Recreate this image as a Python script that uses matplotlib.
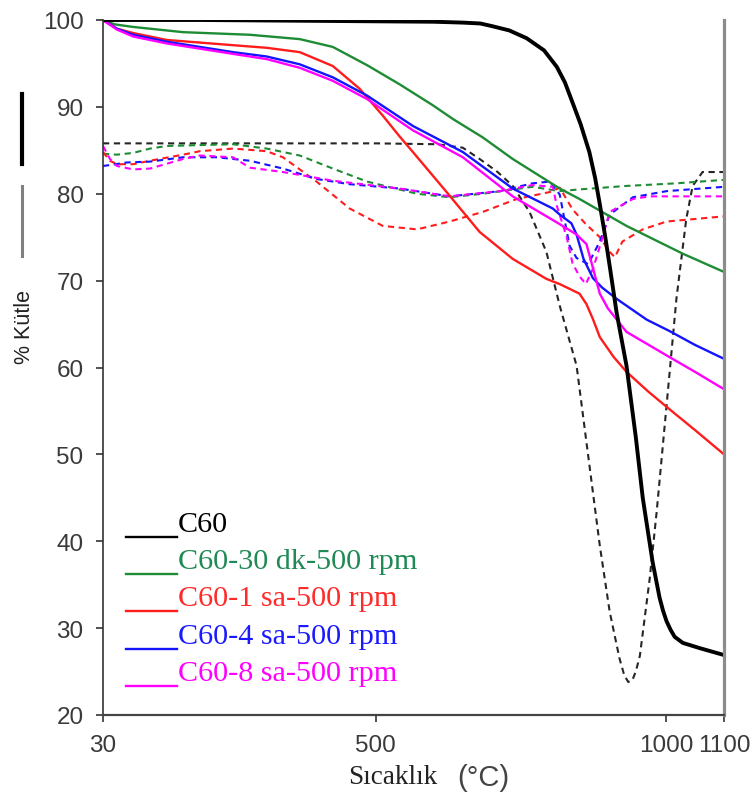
import numpy as np
import matplotlib
matplotlib.use("Agg")
import matplotlib.pyplot as plt
from matplotlib.lines import Line2D

# --- data (temperature in C, mass %) ---
labels = ["C60", "C60-30 dk-500 rpm", "C60-1 sa-500 rpm", "C60-4 sa-500 rpm", "C60-8 sa-500 rpm"]
lineColors = ["#000000", "#1e8c34", "#ff1c1c", "#1414ff", "#ff00ff"]
textColors = ["#000000", "#1f8a55", "#ff2a2a", "#1a1aff", "#ff00ff"]

# solid curves (mass loss)
tBlack = [30, 200, 400, 600, 650, 680, 700, 730, 760, 790, 812, 826, 839, 853, 868, 878, 886, 895, 903, 915, 932, 948,
          960, 977, 989, 995, 1001, 1008, 1015, 1029, 1058, 1100]
mBlack = [100, 100, 99.9, 99.8, 99.7, 99.6, 99.3, 98.8, 97.9, 96.5, 94.6, 92.8, 90.5, 88.0, 84.8, 81.8, 78.8, 75.2, 71.7,
          66.3, 60.2, 52.0, 45.0, 37.6, 33.5, 32.0, 30.8, 29.8, 29.0, 28.3, 27.7, 26.9]

tGreen = [30, 50, 82, 168, 283, 369, 426, 485, 541, 598, 633, 684, 736, 817, 851, 932, 1029, 1100]
mGreen = [100, 99.5, 99.2, 98.6, 98.3, 97.8, 96.9, 94.8, 92.6, 90.2, 88.6, 86.5, 84.0, 80.6, 79.4, 76.3, 73.1, 71.0]

tRed = [30, 54, 82, 140, 197, 254, 312, 369, 426, 472, 512, 541, 564, 622, 679, 736, 794, 817, 851, 863, 874, 886, 910,
        932, 970, 1006, 1050, 1100]
mRed = [100, 99.0, 98.5, 97.7, 97.4, 97.1, 96.8, 96.3, 94.7, 92.1, 89.0, 86.6, 84.8, 80.2, 75.6, 72.5, 70.2, 69.6, 68.5,
        67.3, 65.6, 63.5, 61.2, 59.5, 57.2, 55.2, 52.8, 50.0]

tBlue = [30, 54, 82, 140, 197, 254, 312, 369, 426, 485, 564, 650, 736, 805, 817, 837, 846, 858, 874, 890, 915, 967, 1006,
         1050, 1100]
mBlue = [100, 99.0, 98.3, 97.5, 96.9, 96.3, 95.8, 94.9, 93.4, 91.3, 87.8, 84.8, 80.6, 78.3, 77.6, 76.6, 75.3, 72.5, 70.3,
         69.2, 67.9, 65.5, 64.2, 62.6, 61.0]

tPink = [30, 54, 82, 140, 197, 254, 312, 369, 426, 485, 564, 650, 736, 817, 846, 863, 874, 886, 900, 932, 1006, 1050, 1100]
mPink = [100, 98.9, 98.1, 97.3, 96.7, 96.1, 95.5, 94.5, 93.0, 90.9, 87.3, 84.2, 79.7, 76.5, 75.3, 74.2, 71.5, 68.5, 66.8,
         64.1, 61.2, 59.5, 57.5]

# dashed curves (derivative, scaled)
tBlackD = [30, 300, 500, 605, 650, 679, 710, 736, 765, 794, 817, 846, 874, 886, 903, 920, 928, 935, 942, 948, 955, 972,
           984, 1001, 1018, 1035, 1046, 1063, 1100]
dBlackD = [85.8, 85.8, 85.8, 85.7, 85.3, 84.0, 82.5, 80.9, 77.9, 73.3, 67.1, 60.2, 45.7, 39.5, 31.9, 26.5, 24.6, 23.8,
           24.0, 25.0, 26.8, 35.7, 43.4, 55.6, 67.9, 77.1, 80.9, 82.5, 82.5]

tGreenD = [30, 54, 82, 111, 140, 254, 312, 369, 426, 485, 571, 627, 684, 770, 817, 851, 932, 1018, 1100]
dGreenD = [84.6, 84.5, 84.7, 85.2, 85.5, 85.7, 85.2, 84.4, 82.9, 81.4, 80.0, 79.6, 80.0, 80.8, 80.3, 80.5, 80.9, 81.2, 81.6]

tRedD = [30, 42, 54, 82, 111, 168, 197, 254, 312, 340, 398, 455, 512, 571, 627, 684, 743, 800, 817, 839, 862, 886, 903,
         912, 925, 960, 1001, 1100]
dRedD = [84.8, 83.8, 83.4, 83.4, 83.8, 84.5, 84.9, 85.2, 84.9, 84.2, 81.4, 78.3, 76.3, 75.9, 76.8, 77.9, 79.4, 80.2, 80.7,
         78.2, 76.5, 75.0, 73.3, 72.7, 74.5, 75.9, 76.8, 77.4]

tBlueD = [30, 42, 71, 111, 168, 226, 283, 340, 398, 455, 541, 627, 714, 770, 800, 817, 825, 834, 846, 866, 886, 903, 943,
          1001, 1100]
dBlueD = [83.2, 83.3, 83.6, 83.7, 84.2, 84.2, 83.8, 82.9, 81.7, 81.1, 80.6, 79.7, 80.3, 81.2, 81.4, 79.9, 77.1, 74.0,
          72.6, 71.9, 74.5, 77.6, 79.6, 80.3, 80.8]

tPinkD = [30, 42, 54, 82, 111, 168, 197, 254, 283, 340, 426, 541, 627, 714, 770, 805, 812, 829, 839, 851, 862, 875, 890,
          903, 943, 972, 1100]
dPinkD = [85.5, 84.0, 83.2, 82.8, 82.9, 84.0, 84.4, 84.2, 83.0, 82.5, 81.5, 80.6, 79.7, 80.3, 81.0, 80.8, 78.6, 75.0,
          72.0, 70.5, 69.6, 71.5, 74.8, 77.9, 79.4, 79.7, 79.7]

xTicks = [30, 500, 1000, 1100]
yTicks = [20, 30, 40, 50, 60, 70, 80, 90, 100]

W, H = 751, 804


def figX(px):
    return px / W


def figY(py):
    return 1 - py / H


fig = plt.figure(figsize=(W / 100, H / 100), dpi=100)
ax = fig.add_axes([figX(103), figY(716), (724 - 103) / W, (716 - 21) / H])

dash = (0, (3, 2.2))
dashed = [(tBlackD, dBlackD, "#262626"), (tGreenD, dGreenD, lineColors[1]), (tRedD, dRedD, lineColors[2]),
          (tBlueD, dBlueD, lineColors[3]), (tPinkD, dPinkD, lineColors[4])]
for t, d, c in dashed:
    ax.plot(t, d, color=c, lw=1.5, linestyle=dash)

solid = [(tGreen, mGreen, 1), (tRed, mRed, 2), (tBlue, mBlue, 3), (tPink, mPink, 4)]
for t, m, i in solid:
    ax.plot(t, m, color=lineColors[i], lw=1.7)
ax.plot(tBlack, mBlack, color="black", lw=2.8, solid_capstyle="round", solid_joinstyle="round")

ax.set_xlim(30, 1100)
ax.set_ylim(20, 100)
ax.set_xticks(xTicks)
ax.set_yticks(yTicks)
ax.tick_params(axis="both", direction="out", length=5, width=1.2, colors="#333333",
               labelsize=17.5, labelcolor="#3a3a3a", pad=9)
for lab in ax.get_xticklabels() + ax.get_yticklabels():
    lab.set_family("Liberation Sans")

ax.spines["top"].set_visible(False)
ax.spines["right"].set_color("#8c8c8c")
ax.spines["right"].set_linewidth(2.3)
ax.spines["left"].set_color("#333333")
ax.spines["left"].set_linewidth(1.2)
ax.spines["bottom"].set_color("#444444")
ax.spines["bottom"].set_linewidth(1.6)

# axis titles
fig.text(figX(393), figY(778), "Sıcaklık", family="Liberation Serif", fontsize=19.5,
         ha="center", va="center", color="#222222")
fig.text(figX(483), figY(778), "(°C)", family="Liberation Sans", fontsize=21,
         ha="center", va="center", color="#444444")
fig.text(figX(25), figY(327), "% Kütle", family="Liberation Sans", fontsize=15.5,
         rotation=90, ha="center", va="center", color="#222222")

# the two small bars left of the y axis
fig.add_artist(Line2D([figX(22), figX(22)], [figY(95), figY(165)], color="black", lw=3.0))
fig.add_artist(Line2D([figX(22), figX(22)], [figY(187), figY(257)], color="#808080", lw=2.2))

# hand-made legend
legendY = [538, 575, 612, 650, 687]
for i, lab in enumerate(labels):
    y = legendY[i]
    fig.add_artist(Line2D([figX(126), figX(177)], [figY(y), figY(y)], color=lineColors[i], lw=1.7))
    fig.text(figX(178), figY(y - 6), lab, family="Liberation Serif", fontsize=21.7,
             color=textColors[i], ha="left", va="baseline")

fig.savefig("out.png", dpi=100)
